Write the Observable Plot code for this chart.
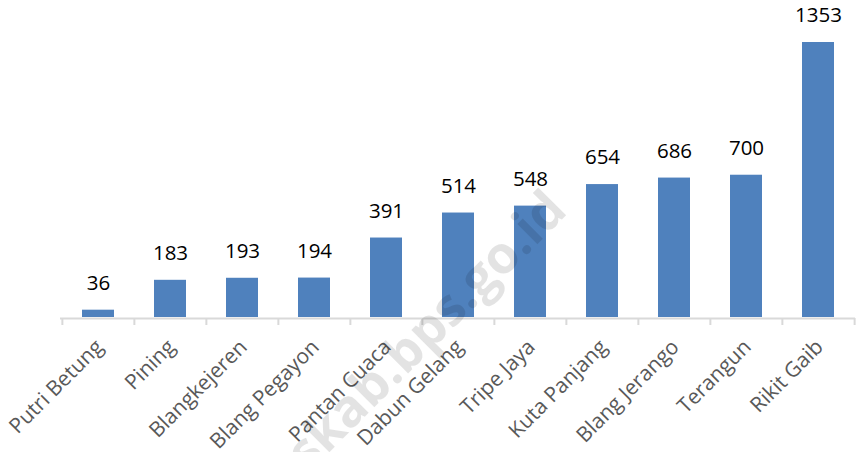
<!DOCTYPE html>
<html>
<head>
<meta charset="utf-8">
<script src="https://cdn.jsdelivr.net/npm/d3@7"></script>
<script src="https://cdn.jsdelivr.net/npm/@observablehq/plot@0.6"></script>
<style>
  html, body { margin: 0; padding: 0; background: #fff; }
  #chart svg { display: block; }
</style>
</head>
<body>
<div id="chart"></div>
<script>
const categories = ["Putri Betung", "Pining", "Blangkejeren", "Blang Pegayon", "Pantan Cuaca", "Dabun Gelang", "Tripe Jaya", "Kuta Panjang", "Blang Jerango", "Terangun", "Rikit Gaib"];
const values = [36, 183, 193, 194, 391, 514, 548, 654, 686, 700, 1353];
const watermark = ["gayolueskab.bps.go.id"];

const data = categories.map((c, i) => ({category: c, value: values[i]}));

const W = 857, H = 452;
const mL = 60, mR = 2, mT = 42, mB = 135;
const step = (W - mL - mR) / categories.length;
const font = "'Open Sans', sans-serif";

const chart = Plot.plot({
  width: W,
  height: H,
  marginLeft: mL,
  marginRight: mR,
  marginTop: mT,
  marginBottom: mB,
  style: {fontFamily: font, background: "#fff", overflow: "hidden"},
  x: {domain: categories, paddingInner: 0.557, paddingOuter: 0.2785, label: null},
  y: {domain: [0, d3.max(values)], axis: null},
  marks: [
    Plot.barY(data, {x: "category", y: "value", fill: "#4F81BD"}),
    Plot.ruleY([0], {stroke: "#d9d9d9", strokeWidth: 2, dy: 1}),
    Plot.axisX({tickSize: 7, tickFormat: () => "", dx: -step / 2, stroke: "#d9d9d9", strokeWidth: 2, dy: 1}),
    Plot.axisX({ticks: [categories[categories.length - 1]], tickSize: 7, tickFormat: () => "", dx: step / 2, stroke: "#d9d9d9", strokeWidth: 2, dy: 1}),
    Plot.axisX({tickSize: 0, tickRotate: -45, tickPadding: 26, dx: 1, fontSize: 21, fill: "#595959", stroke: null}),
    Plot.text(data, {x: "category", y: "value", text: d => String(d.value), dy: -27, fontSize: 20.5, fill: "#000"}),
    Plot.text(watermark, {text: d => d, frameAnchor: "middle", dx: -103, dy: 223, rotate: -45, fontSize: 52, fontWeight: "bold", fill: "#000", fillOpacity: 0.11})
  ]
});

document.getElementById("chart").appendChild(chart);
</script>
</body>
</html>
